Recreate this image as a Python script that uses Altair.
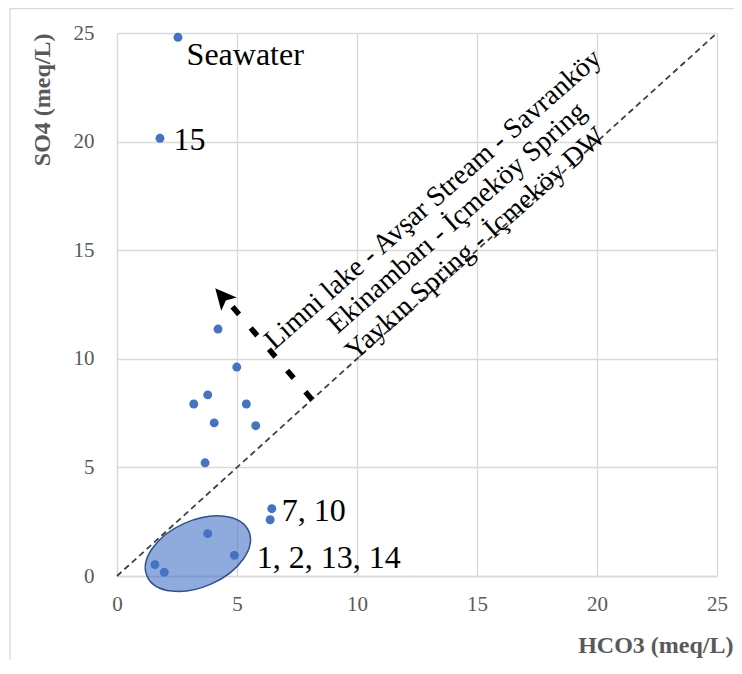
import altair as alt
import pandas as pd

# ---- data ----
hco3 = [2.54, 1.79, 4.21, 4.99, 3.78, 3.20, 5.39, 4.05, 5.78, 3.67, 6.45, 6.38, 3.78, 4.89, 1.58, 1.97]
so4 = [24.8, 20.15, 11.37, 9.62, 8.34, 7.92, 7.92, 7.05, 6.92, 5.21, 3.10, 2.59, 1.95, 0.95, 0.52, 0.17]

label_text = ["Seawater", "15", "7, 10", "1, 2, 13, 14"]
label_x = [2.90, 2.35, 6.86, 5.82]
label_y = [23.54, 19.60, 2.53, 0.35]

ann_text = ["Limni lake - Avşar Stream - Savranköy",
            "Ekinambarı - İçmeköy Spring",
            "Yaykın Spring - İçmeköy DW"]
ann_x = [13.40, 14.40, 15.17]
ann_y = [17.05, 16.20, 15.00]

ref_x = [0, 25]
ref_y = [0, 25]

arrow_x = [8.12, 4.64]
arrow_y = [8.13, 12.62]
head_x = [4.42]
head_y = [12.83]

ell_x = [3.37]
ell_y = [1.03]

ticks = [0, 5, 10, 15, 20, 25]

# ---- encodings ----
SERIF = "Liberation Serif"
GRAY = "#595959"
GRID = "#d9d9d9"

xscale = alt.Scale(domain=[0, 25], nice=False)
yscale = alt.Scale(domain=[0, 25], nice=False)

xaxis = alt.Axis(values=ticks, title="HCO3 (meq/L)", grid=True, gridColor=GRID, gridWidth=1.3,
                 domainColor=GRID, domainWidth=1.3, ticks=False, labelFlush=False,
                 labelFont=SERIF, labelFontSize=21, labelColor=GRAY, labelPadding=17,
                 titleFont=SERIF, titleFontSize=24, titleFontWeight="bold", titleColor=GRAY,
                 titleAnchor="end", titleAlign="right", titleX=616, titleY=76,
                 titleBaseline="alphabetic")
yaxis = alt.Axis(values=ticks, title="SO4 (meq/L)", grid=True, gridColor=GRID, gridWidth=1.3,
                 domainColor=GRID, domainWidth=1.3, ticks=False, labelFlush=False,
                 labelFont=SERIF, labelFontSize=21, labelColor=GRAY, labelPadding=23,
                 titleFont=SERIF, titleFontSize=24, titleFontWeight="bold", titleColor=GRAY,
                 titleAngle=270, titleAnchor="end", titleAlign="right", titleX=-74.5, titleY=0,
                 titleBaseline="middle")

X = alt.X("x:Q", scale=xscale, axis=xaxis)
Y = alt.Y("y:Q", scale=yscale, axis=yaxis)

pts = pd.DataFrame({"x": hco3, "y": so4})
labels = pd.DataFrame({"x": label_x, "y": label_y, "t": label_text})
anns = pd.DataFrame({"x": ann_x, "y": ann_y, "t": ann_text})
ref = pd.DataFrame({"x": ref_x, "y": ref_y})
arrow = pd.DataFrame({"x": arrow_x, "y": arrow_y, "i": list(range(len(arrow_x)))})
head = pd.DataFrame({"x": head_x, "y": head_y})
ell = pd.DataFrame({"x": ell_x, "y": ell_y})

k = 0.5523
b = 0.597
ellipse_path = (f"M -1 0 C -1 {-k*b:.4f} {-k:.4f} {-b} 0 {-b} "
                f"C {k:.4f} {-b} 1 {-k*b:.4f} 1 0 "
                f"C 1 {k*b:.4f} {k:.4f} {b} 0 {b} "
                f"C {-k:.4f} {b} -1 {k*b:.4f} -1 0 Z")
arrow_path = "M 0 -1 L 0.85 0.75 L 0 0.35 L -0.85 0.75 Z"

one = alt.Data(values=[{}])

border_left = alt.Chart(one).mark_rule(color=GRID, strokeWidth=1.3).encode(
    x=alt.value(-107), y=alt.value(-24.5), y2=alt.value(700))
border_top = alt.Chart(one).mark_rule(color=GRID, strokeWidth=1.3).encode(
    x=alt.value(-107), x2=alt.value(640), y=alt.value(-24.5))

ellipse = alt.Chart(ell).mark_point(
    shape=ellipse_path, size=12365, filled=True, color="#4472C4", fill="#4472C4",
    fillOpacity=0.6, stroke="#2F528F", strokeOpacity=1, strokeWidth=1.5, angle=335.9, opacity=1
).encode(x=X, y=Y)

refline = alt.Chart(ref).mark_line(color="#404040", strokeDash=[6, 4], strokeWidth=1.8).encode(x=X, y=Y)

shaft = alt.Chart(arrow).mark_line(color="black", strokeDash=[10, 18], strokeWidth=5.5,
                                   strokeCap="butt").encode(x=X, y=Y, order="i:Q")
arrowhead = alt.Chart(head).mark_point(shape=arrow_path, size=576, filled=True, color="black",
                                       opacity=1, angle=319.2).encode(x=X, y=Y)

points = alt.Chart(pts).mark_circle(size=80, color="#4472C4", opacity=1).encode(x=X, y=Y)

lab = alt.Chart(labels).mark_text(align="left", baseline="alphabetic", font=SERIF,
                                  fontSize=32, color="black").encode(x=X, y=Y, text="t:N")

ann = alt.Chart(anns).mark_text(align="center", baseline="alphabetic", font=SERIF,
                                fontSize=28, color="black", angle=318.6).encode(x=X, y=Y, text="t:N")

chart = alt.layer(border_left, border_top, ellipse, refline, shaft, arrowhead, points, lab, ann).properties(
    width=600, height=543,
    autosize=alt.AutoSizeParams(type="none"),
    padding={"left": 109, "top": 25, "right": 17, "bottom": 84},
    background="white",
).configure_view(stroke=None)

chart.save("out.html", embed_options={"renderer": "svg", "actions": False})
